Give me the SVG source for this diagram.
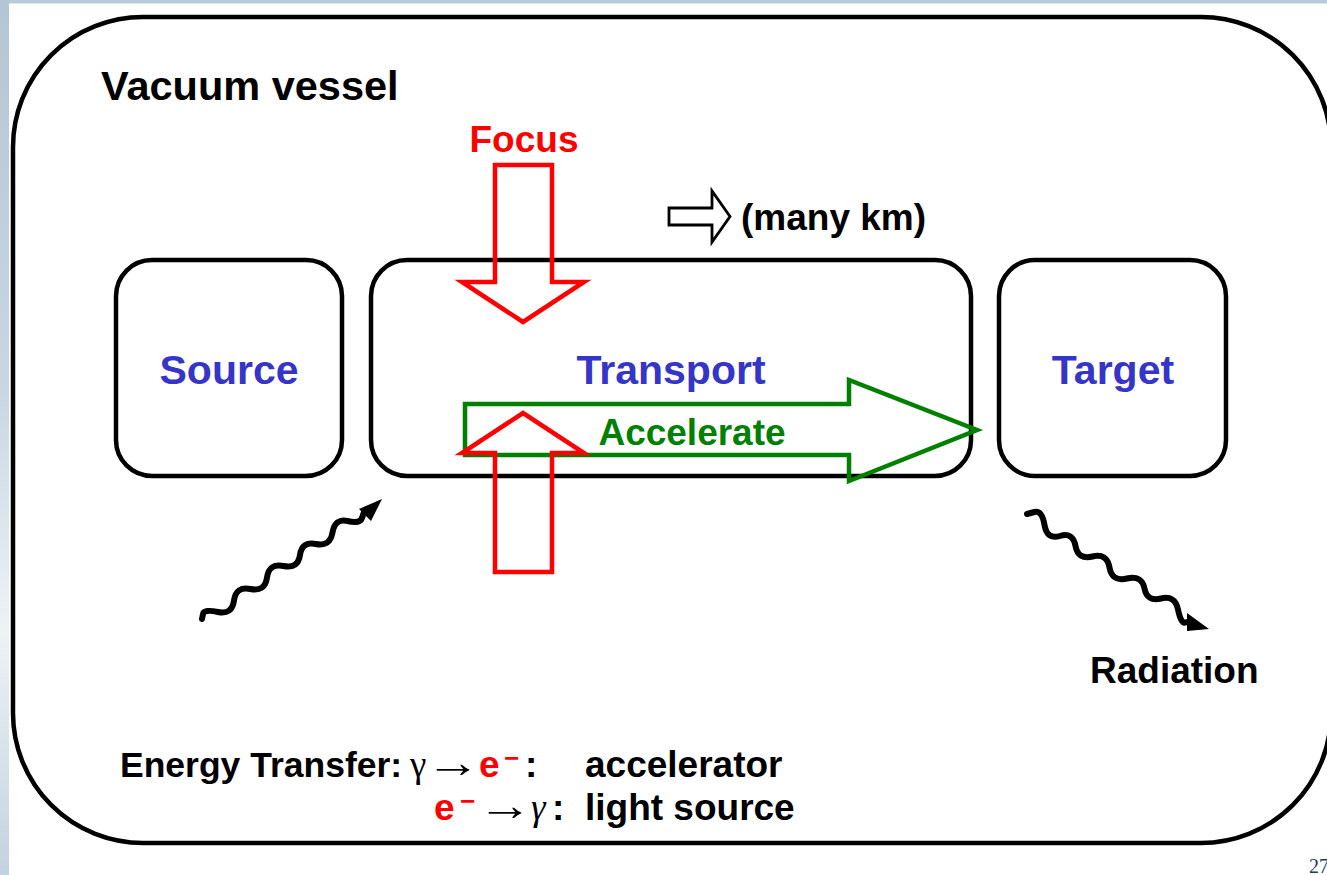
<svg xmlns="http://www.w3.org/2000/svg" width="1327" height="875" viewBox="0 0 1327 875">
<defs>
<linearGradient id="edge" x1="0" y1="0" x2="0" y2="1">
<stop offset="0" stop-color="#b3c6d5"/>
<stop offset="0.45" stop-color="#c9d7e2"/>
<stop offset="0.72" stop-color="#eef2f5"/>
<stop offset="1" stop-color="#c3d2de"/>
</linearGradient>
<style>
.box{fill:none;stroke:#000;stroke-width:4.5}
.lbl{font-family:"Liberation Sans",Arial,sans-serif;font-weight:bold;font-size:41px;fill:#3535c8;text-anchor:middle}
.t{font-family:"Liberation Sans",Arial,sans-serif;font-weight:bold;font-size:37px;fill:#000}
.sym{font-family:"Liberation Serif","Times New Roman",serif;font-weight:normal;font-size:37px;fill:#000}
.arr{font-family:"Liberation Serif","Times New Roman",serif;font-weight:normal;font-size:44px;fill:#000;text-anchor:middle}
.red{fill:#ff0000}
.wave{fill:none;stroke:#000;stroke-width:6;stroke-linejoin:round;stroke-linecap:round}
.fa{fill:none;stroke:#ff0000;stroke-width:4.5}
.ga{fill:none;stroke:#008000;stroke-width:4.5}
</style>
</defs>
<rect x="0" y="0" width="1327" height="875" fill="#ffffff"/>
<rect x="0" y="0" width="1327" height="3.5" fill="#b9cbd9"/>
<rect x="0" y="0" width="9" height="875" fill="url(#edge)"/>

<g id="vessel">
<rect x="13" y="17" width="1318" height="826" rx="130" ry="130" class="box"/>
<text x="101" y="100" class="t" style="font-size:41.5px">Vacuum vessel</text>
</g>

<g id="source">
<rect x="116" y="260" width="226" height="216" rx="36" ry="36" class="box"/>
<text x="229" y="384" class="lbl">Source</text>
</g>

<g id="transport">
<rect x="371" y="260" width="600" height="216" rx="36" ry="36" class="box"/>
<text x="671" y="384" class="lbl">Transport</text>
</g>

<g id="target">
<rect x="999" y="260" width="227" height="216" rx="36" ry="36" class="box"/>
<text x="1113" y="384" class="lbl">Target</text>
</g>

<g id="connectors">
<g id="accelerate">
<polygon class="ga" points="465,404 849,404 849,380 977,430 849,481 849,455 465,455"/>
<text x="692" y="445" class="t" style="fill:#008000;text-anchor:middle">Accelerate</text>
</g>
<g id="focus">
<text x="524" y="152" class="t red" style="text-anchor:middle">Focus</text>
<polygon class="fa" points="495,165 552,165 552,282 584,282 523,322 462,282 495,282"/>
<polygon class="fa" points="495,572 552,572 552,453 584,453 523,413 462,453 495,453"/>
</g>
<g id="distance">
<polygon fill="none" stroke="#000" stroke-width="2.8" points="669,208 712,208 712,191 730,216.5 712,242 712,225 669,225"/>
<text x="741" y="230" class="t">(many km)</text>
</g>
<g id="wave-in">
<path class="wave" d="M202,619 L203,614 Q204,609 218,612 Q232,615 234,600.5 Q236,586 250.5,589 Q265,592 267,577.5 Q269,563 283.5,566 Q298,569 300,555 Q302,541 316,544 Q330,547 332.5,532.5 Q335,518 347.5,521 Q360,524 362,518 L364,512"/>
<polygon points="359,509 382,499 371,521" fill="#000"/>
</g>
<g id="wave-out">
<path class="wave" d="M1027,514 L1034.5,512 Q1042,510 1044.5,525 Q1047,540 1060,536 Q1073,532 1075.5,546 Q1078,560 1092.5,556.5 Q1107,553 1109.5,567.5 Q1112,582 1127,578.5 Q1142,575 1144.5,588.5 Q1147,602 1161,598.5 Q1175,595 1178,609.5 Q1181,624 1185.5,622.5 L1190,621"/>
<polygon points="1187,613 1209,629 1187,631" fill="#000"/>
<text x="1090" y="683" class="t">Radiation</text>
</g>
</g>

<g id="energy">
<text x="120" y="777" class="t" style="font-size:35.5px">Energy Transfer:</text>
<text x="410" y="777" class="sym">γ</text>
<text transform="translate(453,777) scale(1.25,1)" class="arr">→</text>
<text y="777" class="t"><tspan x="479" class="red">e</tspan><tspan x="504" y="767" class="red" style="font-size:26px">−</tspan><tspan x="525" y="777">:</tspan><tspan x="585">accelerator</tspan></text>
<text y="820" class="t"><tspan x="434" class="red">e</tspan><tspan x="460" y="810" class="red" style="font-size:26px">−</tspan></text>
<text transform="translate(505,820) scale(1.25,1)" class="arr">→</text>
<text x="531" y="820" class="sym" style="font-style:italic">γ</text>
<text y="820" class="t"><tspan x="552">:</tspan><tspan x="585">light source</tspan></text>
</g>

<text x="1309" y="873" style="font-family:'Liberation Serif',serif;font-size:20px;fill:#1f3a5f">27</text>
</svg>
